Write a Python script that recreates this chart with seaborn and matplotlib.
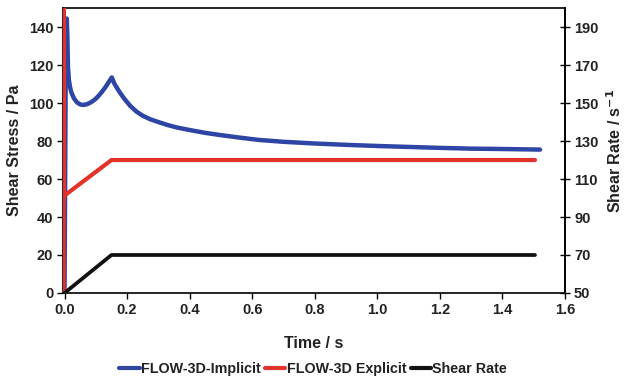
import matplotlib
matplotlib.use("Agg")
import matplotlib.pyplot as plt
from matplotlib.lines import Line2D
import seaborn as sns

# Data
t_implicit = [0, 0.004, 0.007, 0.009, 0.011, 0.014, 0.018, 0.022, 0.03, 0.04, 0.05, 0.059,
              0.07, 0.08, 0.09, 0.1, 0.11, 0.12, 0.13, 0.14, 0.151,
              0.16, 0.175, 0.19, 0.21, 0.23, 0.25, 0.275, 0.3, 0.33, 0.36, 0.4, 0.45, 0.5,
              0.56, 0.62, 0.7, 0.8, 0.9, 1.0, 1.1, 1.2, 1.3, 1.4, 1.52]
v_implicit = [0, 125, 144.5, 135, 119, 112, 108, 105.5, 102.5, 100.3, 99.3, 99,
              99.3, 100, 101, 102.3, 104, 106, 108.2, 110.7, 113.5,
              110, 106, 102.5, 98.5, 95.5, 93.3, 91.4, 90, 88.4, 87.1, 85.8, 84.3, 83.1,
              81.8, 80.6, 79.6, 78.7, 78.0, 77.4, 76.9, 76.4, 76.0, 75.8, 75.5]
t_explicit = [-0.003, -0.003, -0.0025, 0.15, 1.504]
v_explicit = [0, 170, 51, 70, 70]
t_rate = [0, 0.15, 1.504]
v_rate = [50, 70, 70]

labels = ["FLOW-3D-Implicit", "FLOW-3D Explicit", "Shear Rate"]
colors = ["#2E45A5", "#E3322A", "#111111"]

sns.set_style("white")
plt.rcParams['font.family'] = ['Liberation Sans', 'DejaVu Sans']
plt.rcParams['font.weight'] = 'bold'
plt.rcParams['mathtext.default'] = 'bf'

fig = plt.figure(figsize=(6.26, 3.85), dpi=100)
ax = fig.add_axes([0.1006, 0.239, 0.802, 0.740])
ax2 = ax.twinx()

sns.lineplot(x=t_implicit, y=v_implicit, ax=ax, color=colors[0], lw=3.2, sort=False,
             estimator=None, legend=False, zorder=3)
sns.lineplot(x=t_explicit, y=v_explicit, ax=ax, color=colors[1], lw=3.0, sort=False,
             estimator=None, legend=False, zorder=4)
sns.lineplot(x=t_rate, y=v_rate, ax=ax2, color=colors[2], lw=2.7, sort=False,
             estimator=None, legend=False, zorder=3)

ax.set_xlim(-0.005, 1.6)
ax.set_ylim(0, 150)
ax2.set_ylim(50, 200)
ax.set_xticks([0, 0.2, 0.4, 0.6, 0.8, 1.0, 1.2, 1.4, 1.6])
ax.set_xticklabels(["0.0", "0.2", "0.4", "0.6", "0.8", "1.0", "1.2", "1.4", "1.6"])
ax.set_yticks([0, 20, 40, 60, 80, 100, 120, 140])
ax2.set_yticks([50, 70, 90, 110, 130, 150, 170, 190])

for s in ax.spines.values():
    s.set_color("black")
    s.set_linewidth(1.2)
    s.set_zorder(2)
for k in ("left", "top", "bottom"):
    ax2.spines[k].set_visible(False)
ax2.spines["right"].set_color("black")
ax2.spines["right"].set_linewidth(1.2)

ax.tick_params(axis='both', direction='out', length=4, width=1, colors='black',
               labelsize=10.5, labelcolor='#222222', left=True, bottom=True, pad=3)
ax2.tick_params(axis='y', direction='inout', length=7, width=1, colors='black',
                labelsize=10.5, labelcolor='#222222', right=True, pad=3)
for lab in ax.get_xticklabels() + ax.get_yticklabels() + ax2.get_yticklabels():
    lab.set_fontweight('bold')

ax.set_xlabel("Time / s", fontsize=11.5, fontweight='bold', labelpad=14, color='#222222')
ax.set_ylabel("Shear Stress / Pa", fontsize=11.5, fontweight='bold', labelpad=5, color='#222222')
ax2.set_ylabel("Shear Rate / s$^{-1}$", fontsize=11.5, fontweight='bold', labelpad=5,
               color='#222222')

handles = [Line2D([0], [0], color=c, lw=3) for c in colors]
leg = fig.legend(handles, labels, loc='lower center', bbox_to_anchor=(0.5, -0.01), ncol=3,
                 frameon=False, handlelength=1.45, handletextpad=0.08, columnspacing=0.3,
                 prop={'weight': 'bold', 'size': 10.3})
for txt in leg.get_texts():
    txt.set_color('#222222')

fig.savefig("out.png", dpi=100)
